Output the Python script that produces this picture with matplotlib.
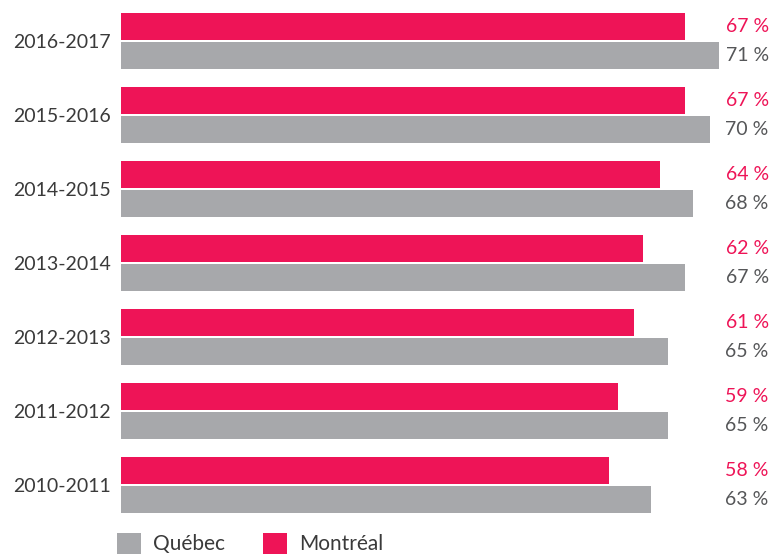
import matplotlib.pyplot as plt
import numpy as np

years = ['2010-2011', '2011-2012', '2012-2013', '2013-2014', '2014-2015', '2015-2016', '2016-2017']
montreal = [58, 59, 61, 62, 64, 67, 67]
quebec = [63, 65, 65, 67, 68, 70, 71]

pink = '#EE1457'
grey = '#A7A8AB'

plt.rcParams['font.family'] = ['Lato', 'DejaVu Sans']

fig = plt.figure(figsize=(7.72, 5.57), dpi=100)
ax = fig.add_axes([121 / 772, 0.0562, 649 / 772, 0.9433])

y = np.arange(len(years))
h = 0.365
off = 0.196
b_m = ax.barh(y + off, montreal, height=h, color=pink, label='Montréal')
b_q = ax.barh(y - off, quebec, height=h, color=grey, label='Québec')

ax.set_xlim(0, 77.1)
ax.set_ylim(-0.55, 6.55)

trans = ax.get_yaxis_transform()
for i in range(len(years)):
    ax.text(0.998, y[i] + off, f'{montreal[i]} %', transform=trans, ha='right', va='center',
            fontsize=14, color=pink)
    ax.text(0.998, y[i] - off, f'{quebec[i]} %', transform=trans, ha='right', va='center',
            fontsize=14, color='#555658')

ax.set_yticks(y)
ax.set_yticklabels(years, fontsize=14, color='#3a3a3a', ha='left')
ax.tick_params(axis='y', length=0, pad=78)
ax.set_xticks([])
for s in ax.spines.values():
    s.set_visible(False)

fig.legend(handles=[b_q, b_m], labels=['Québec', 'Montréal'], loc='upper left',
           bbox_to_anchor=(117 / 772, 1 - 533 / 557), ncol=2, frameon=False,
           fontsize=15, handlelength=1.15, handleheight=1.15, handletextpad=0.6,
           columnspacing=1.8, labelcolor='#3a3a3a', borderaxespad=0, borderpad=0)

fig.savefig('out.png', dpi=100)
